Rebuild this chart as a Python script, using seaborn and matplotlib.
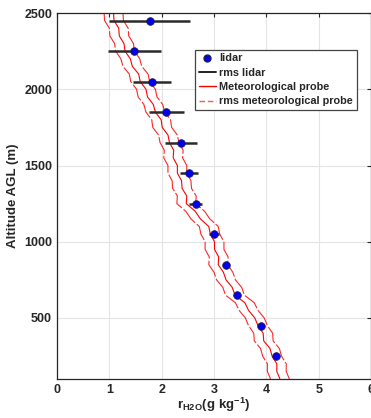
import numpy as np
import pandas as pd
import matplotlib
matplotlib.use('Agg')
import matplotlib.pyplot as plt
import seaborn as sns
from matplotlib.lines import Line2D

# lidar retrievals
lidar_alt = [250, 450, 650, 850, 1050, 1250, 1450, 1650, 1850, 2050, 2250, 2450]
lidar_r = [4.18, 3.89, 3.43, 3.23, 3.00, 2.65, 2.52, 2.37, 2.09, 1.81, 1.48, 1.77]
lidar_rms = [0.04, 0.04, 0.05, 0.04, 0.09, 0.13, 0.17, 0.31, 0.34, 0.36, 0.50, 0.78]

# meteorological probe profile
probe_alt = [100, 150, 200, 250, 300, 350, 400, 450, 500, 550, 600, 650, 700,
             750, 800, 850, 900, 950, 1000, 1050, 1100, 1150, 1200, 1250, 1300,
             1350, 1400, 1450, 1500, 1550, 1600, 1650, 1700, 1750, 1800, 1850,
             1900, 1950, 2000, 2050, 2100, 2150, 2200, 2250, 2300, 2350, 2400,
             2450, 2500]
probe_r = [4.26, 4.20, 4.20, 4.11, 4.07, 3.95, 3.94, 3.84, 3.78, 3.66, 3.59,
           3.40, 3.35, 3.23, 3.18, 3.08, 3.09, 3.01, 3.01, 2.93, 2.90, 2.74,
           2.64, 2.47, 2.48, 2.39, 2.38, 2.30, 2.30, 2.22, 2.23, 2.15, 2.12,
           2.01, 1.99, 1.88, 1.84, 1.73, 1.70, 1.59, 1.56, 1.44, 1.40, 1.30,
           1.28, 1.19, 1.18, 1.09, 1.08]
probe_rms = 0.18

probe = pd.DataFrame({'alt': probe_alt, 'r': probe_r})
probe['lo'] = probe['r'] - probe_rms
probe['hi'] = probe['r'] + probe_rms
lidar = pd.DataFrame({'alt': lidar_alt, 'r': lidar_r, 'err': lidar_rms})

sns.set_style('white')
plt.rcParams['font.family'] = ['Liberation Sans', 'DejaVu Sans']
plt.rcParams['mathtext.fontset'] = 'custom'
plt.rcParams['mathtext.bf'] = 'Liberation Sans:bold'
plt.rcParams['mathtext.rm'] = 'Liberation Sans:bold'
plt.rcParams['mathtext.it'] = 'Liberation Sans:bold'

fig = plt.figure(figsize=(3.71, 4.18), dpi=100)
ax = fig.add_axes([57 / 371, 1 - 379 / 418, 314 / 371, 366 / 418])

ax.grid(True, color='#e4e4e4', linewidth=0.8)
ax.set_axisbelow(True)

sns.lineplot(data=probe, x='r', y='alt', orient='y', color='red', linewidth=0.8, ax=ax)
for col in ['lo', 'hi']:
    sns.lineplot(data=probe, x=col, y='alt', orient='y', color='red', alpha=0.85,
                 linewidth=0.8, dashes=False, ax=ax).lines[-1].set_dashes((16, 2))
for ln in ax.lines:
    ln.set_solid_joinstyle('round')
    ln.set_dash_joinstyle('round')

ax.errorbar(lidar['r'], lidar['alt'], xerr=lidar['err'], fmt='none',
            ecolor='#2a2a2a', elinewidth=1.8, capsize=0, zorder=3)
sns.scatterplot(data=lidar, x='r', y='alt', color='#0000ee', edgecolor='#222244',
                linewidth=0.6, s=30, zorder=4, ax=ax)

ax.set_xlim(0, 6)
ax.set_ylim(100, 2500)
ax.set_xticks([0, 1, 2, 3, 4, 5, 6])
ax.set_yticks([500, 1000, 1500, 2000, 2500])
ax.tick_params(direction='in', length=3, width=0.8, colors='#262626',
               labelsize=9, top=True, right=True)
for lab in ax.get_xticklabels() + ax.get_yticklabels():
    lab.set_fontweight('bold')
for s in ax.spines.values():
    s.set_color('#262626')
    s.set_linewidth(0.9)

ax.set_ylabel('Altitude AGL (m)', fontsize=9.5, fontweight='bold', color='#262626')
ax.set_xlabel(r'$\mathbf{r_{H2O}(g\ kg^{-1})}$', fontsize=9.5, color='#262626', labelpad=0)

handles = [
    Line2D([], [], marker='o', color='none', markerfacecolor='#0000ee',
           markeredgecolor='#222244', markersize=5),
    Line2D([], [], color='#222222', linewidth=1.4),
    Line2D([], [], color='red', linewidth=1.0),
    Line2D([], [], color='#ff5555', linewidth=1.0, dashes=(4, 2)),
]
labels = ['lidar', 'rms lidar', 'Meteorological probe', 'rms meteorological probe']
leg = ax.legend(handles, labels, loc='upper right', bbox_to_anchor=(0.955, 0.9),
                fontsize=7.8, frameon=True, fancybox=False, framealpha=1,
                edgecolor='#444444', handlelength=1.6, handletextpad=0.3,
                borderpad=0.35, labelspacing=0.4, borderaxespad=0)
for t in leg.get_texts():
    t.set_fontweight('bold')
    t.set_color('#262626')
leg.get_frame().set_linewidth(0.9)

fig.savefig('out.png', dpi=100)
